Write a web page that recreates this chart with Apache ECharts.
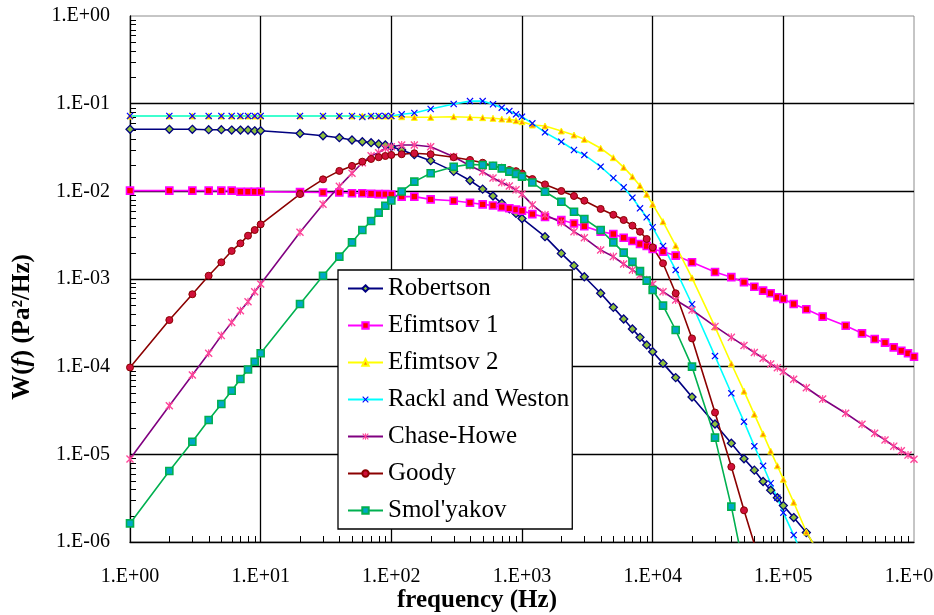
<!DOCTYPE html>
<html><head><meta charset="utf-8">
<script src="https://cdn.jsdelivr.net/npm/echarts@6/dist/echarts.min.js"></script>
<style>html,body{margin:0;padding:0;background:#fff}#c{width:934px;height:615px}</style>
</head><body><div id="c"></div>
<script>
// ---- tick labels ----
const xTickLabels = ['1.E+00','1.E+01','1.E+02','1.E+03','1.E+04','1.E+05','1.E+06'];
const yTickLabels = ['1.E-06','1.E-05','1.E-04','1.E-03','1.E-02','1.E-01','1.E+00'];
const seriesNames = ['Robertson','Efimtsov 1','Efimtsov 2','Rackl and Weston','Chase-Howe','Goody',"Smol'yakov"];

// ---- series values: [frequency Hz, W(f) Pa^2/Hz] ----
const robertson = [[1,0.051],[2,0.051],[3,0.051],[4,0.0505],[5,0.0505],[6,0.050],[7,0.050],[8,0.050],[9,0.049],[10,0.049],
[20,0.0457],[30,0.0431],[40,0.0409],[50,0.0385],[60,0.0368],[70,0.0359],[80,0.0347],[90,0.0338],[100,0.0323],[120,0.0296],[150,0.0262],
[200,0.0224],[300,0.0169],[400,0.0133],[500,0.0106],[600,0.00885],[700,0.0073],[800,0.0063],[900,0.0056],[1000,0.0049],[1500,0.00304],
[2000,0.00196],[2500,0.00142],[3000,0.00106],[4000,0.000687],[5000,0.000475],[6000,0.00035],[7000,0.000269],[8000,0.000216],[9000,0.000177],
[10000,0.000148],[12000,0.000109],[15000,7.5e-5],[20000,4.5e-5],[30000,2.22e-5],[40000,1.34e-5],[50000,8.9e-6],[60000,6.6e-6],[70000,4.9e-6],
[80000,3.9e-6],[90000,3.2e-6],[100000,2.6e-6],[120000,1.9e-6],[150000,1.28e-6],[200000,6.5e-7]];

const efimtsov1 = [[1,0.0102],[2,0.0102],[3,0.0102],[4,0.0102],[5,0.0102],[6,0.0102],[7,0.0099],[8,0.0099],[9,0.0099],[10,0.0099],
[20,0.0098],[30,0.0097],[40,0.0097],[50,0.0095],[60,0.0095],[70,0.0094],[80,0.0093],[90,0.0093],[100,0.0092],[120,0.0087],[150,0.0087],
[200,0.0081],[300,0.0078],[400,0.0074],[500,0.0071],[600,0.0069],[700,0.0066],[800,0.0064],[900,0.0062],[1000,0.0060],[1200,0.0055],[1500,0.0051],
[2000,0.0047],[2500,0.0043],[3000,0.0040],[4000,0.00347],[5000,0.00326],[6000,0.00295],[7000,0.00271],[8000,0.00251],[9000,0.00238],
[10000,0.0022],[12000,0.00205],[15000,0.00185],[20000,0.00155],[30000,0.0012],[40000,0.00105],[50000,0.00092],[60000,0.000817],[70000,0.000736],
[80000,0.000687],[90000,0.000618],[100000,0.000591],[120000,0.000519],[150000,0.000451],[200000,0.000372],[300000,0.000293],[400000,0.00024],
[500000,0.000207],[600000,0.000188],[700000,0.000166],[800000,0.000152],[900000,0.000142],[1000000,0.00013]];

const efimtsov2 = [[1,0.0724],[2,0.0724],[3,0.0724],[4,0.0724],[5,0.0724],[6,0.0724],[7,0.0724],[8,0.0724],[9,0.0724],[10,0.0724],
[20,0.0724],[30,0.0724],[40,0.0724],[50,0.0724],[60,0.0724],[70,0.0724],[80,0.0724],[90,0.0724],[100,0.0724],[120,0.071],[150,0.0699],
[200,0.0699],[300,0.071],[400,0.0699],[500,0.0692],[600,0.0681],[700,0.0669],[800,0.0663],[900,0.064],[1000,0.0623],[1200,0.0571],[1500,0.0556],
[2000,0.0488],[2500,0.0439],[3000,0.0392],[4000,0.031],[5000,0.0242],[6000,0.0188],[7000,0.0147],[8000,0.0116],[9000,0.00925],
[10000,0.00711],[12000,0.00451],[15000,0.0024],[20000,0.00103],[30000,0.000284],[40000,0.000108],[50000,5.25e-5],[60000,2.86e-5],[70000,1.71e-5],
[80000,1.09e-5],[90000,7.4e-6],[100000,5.2e-6],[120000,2.84e-6],[150000,1.3e-6],[200000,6.3e-7]];

const racklWeston = [[1,0.0724],[2,0.0724],[3,0.0724],[4,0.0724],[5,0.0724],[6,0.0724],[7,0.0724],[8,0.0724],[9,0.0724],[10,0.0724],
[20,0.0724],[30,0.0724],[40,0.0724],[50,0.0724],[60,0.0705],[70,0.0724],[80,0.0724],[90,0.0724],[100,0.0724],[120,0.0756],[150,0.0783],
[200,0.0869],[300,0.0991],[400,0.107],[500,0.107],[600,0.0984],[700,0.090],[800,0.0824],[900,0.0756],[1000,0.071],[1200,0.0597],[1500,0.0471],
[2000,0.0368],[2500,0.0296],[3000,0.026],[4000,0.0191],[5000,0.0142],[6000,0.0111],[7000,0.00846],[8000,0.0064],[9000,0.00506],
[10000,0.00389],[12000,0.00238],[15000,0.00127],[20000,0.000515],[30000,0.000132],[40000,4.97e-5],[50000,2.36e-5],[60000,1.24e-5],[70000,7.4e-6],
[80000,4.68e-6],[90000,3.2e-6],[100000,2.16e-6],[120000,1.2e-6],[150000,5.5e-7]];

const chaseHowe = [[1,8.85e-6],[2,3.59e-5],[3,8.04e-5],[4,1.42e-4],[5,2.26e-4],[6,3.2e-4],[7,4.35e-4],[8,5.5e-4],[9,7.17e-4],[10,8.77e-4],
[20,0.00341],[30,0.00711],[40,0.0114],[50,0.0161],[60,0.0212],[70,0.0255],[80,0.0276],[90,0.031],[100,0.0323],[120,0.0338],[150,0.0338],
[200,0.0323],[300,0.0248],[400,0.0196],[500,0.0167],[600,0.0142],[700,0.0126],[800,0.0115],[900,0.0104],[1000,0.0093],[1200,0.0070],[1500,0.0054],
[2000,0.0044],[2500,0.00347],[3000,0.00295],[4000,0.00214],[5000,0.0018],[6000,0.00148],[7000,0.00127],[8000,0.00111],[9000,0.00098],
[10000,0.00087],[12000,0.000717],[15000,0.000576],[20000,0.000443],[30000,2.88e-4],[40000,2.16e-4],[50000,1.74e-4],[60000,1.45e-4],[70000,1.25e-4],
[80000,1.07e-4],[90000,9.7e-5],[100000,8.8e-5],[120000,7.2e-5],[150000,5.75e-5],[200000,4.28e-5],[300000,2.94e-5],[400000,2.2e-5],
[500000,1.74e-5],[600000,1.46e-5],[700000,1.24e-5],[800000,1.1e-5],[900000,9.8e-6],[1000000,8.8e-6]];

const goody = [[1,9.8e-5],[2,3.4e-4],[3,6.7e-4],[4,1.09e-3],[5,1.55e-3],[6,2.09e-3],[7,2.55e-3],[8,3.12e-3],[9,3.62e-3],[10,4.2e-3],
[20,9.3e-3],[30,0.0137],[40,0.0171],[50,0.0195],[60,0.0218],[70,0.0234],[80,0.0245],[90,0.0253],[100,0.026],[120,0.0265],[150,0.0272],
[200,0.0265],[300,0.0245],[400,0.0228],[500,0.0212],[600,0.0196],[700,0.0186],[800,0.0175],[900,0.017],[1000,0.016],[1200,0.0138],[1500,0.012],
[2000,0.0101],[2500,0.00885],[3000,0.00782],[4000,0.0063],[5000,0.0054],[6000,0.00471],[7000,0.00406],[8000,0.00346],[9000,0.00286],
[10000,0.0023],[12000,0.00151],[15000,6.87e-4],[20000,2.1e-4],[30000,3.0e-5],[40000,7.2e-6],[50000,2.3e-6],[60000,9.5e-7]];

const smolyakov = [[1,1.63e-6],[2,6.46e-6],[3,1.39e-5],[4,2.46e-5],[5,3.75e-5],[6,5.32e-5],[7,7.24e-5],[8,9.3e-5],[9,1.14e-4],[10,1.42e-4],
[20,5.19e-4],[30,1.09e-3],[40,1.8e-3],[50,2.62e-3],[60,3.62e-3],[70,4.59e-3],[80,5.71e-3],[90,6.86e-3],[100,7.86e-3],[120,9.96e-3],[150,0.0129],
[200,0.0161],[300,0.0191],[400,0.0203],[500,0.020],[600,0.0196],[700,0.0183],[800,0.0168],[900,0.0158],[1000,0.0147],[1200,0.0126],[1500,0.0099],
[2000,0.0076],[2500,0.00586],[3000,0.00484],[4000,0.00362],[5000,0.00262],[6000,0.002],[7000,0.00157],[8000,0.00123],[9000,9.57e-4],
[10000,7.5e-4],[12000,4.97e-4],[15000,2.62e-4],[20000,1.0e-4],[30000,1.55e-5],[40000,2.53e-6],[50000,5e-7]];

// ---- presentation ----
const FONT = "'Liberation Serif','Times New Roman',serif";
const X_PATH = 'path://M0,1.2L1.2,0L5,3.8L8.8,0L10,1.2L6.2,5L10,8.8L8.8,10L5,6.2L1.2,10L0,8.8L3.8,5Z';
const STAR_PATH = 'path://M0,1.2L1.2,0L5,3.8L8.8,0L10,1.2L6.2,5L10,8.8L8.8,10L5,6.2L1.2,10L0,8.8L3.8,5Z M4.3,0L5.7,0L5.7,10L4.3,10Z';

function lineSeries(name, data, lineColor, symbol, size, fill, border, bw) {
  return {
    type: 'line', name, data, clip: true, showSymbol: true, showAllSymbol: true,
    symbol, symbolSize: size,
    lineStyle: { color: lineColor, width: 1.6 },
    itemStyle: { color: fill, borderColor: border, borderWidth: bw },
    emphasis: { disabled: true }
  };
}

const minorX = [];
for (let k = 0; k < 6; k++) for (let m = 2; m <= 9; m++) minorX.push(m * Math.pow(10, k));
const minorY = [];
for (let k = -6; k < 0; k++) for (let m = 2; m <= 9; m++) minorY.push(m * Math.pow(10, k));

function labelFrom(labels, minExp) {
  return function (v) { const e = Math.round(Math.log10(v)); return labels[e - minExp] || ''; };
}

const chart = echarts.init(document.getElementById('c'), null, { renderer: 'canvas' });
chart.setOption({
  animation: false,
  backgroundColor: '#fff',
  grid: { left: 130, top: 16, width: 784, height: 526, containLabel: false, outerBoundsMode: 'none',
    show: true, borderColor: '#8c8c8c', borderWidth: 1, backgroundColor: 'transparent' },
  xAxis: {
    type: 'log', logBase: 10, min: 1, max: 1e6, splitNumber: 6,
    axisLine: { show: true, onZero: false, lineStyle: { color: '#000', width: 1.3 } },
    axisTick: { show: false },
    splitLine: { show: true, showMinLine: false, showMaxLine: false, lineStyle: { color: '#000', width: 1.3 } },
    axisLabel: { formatter: labelFrom(xTickLabels, 0), margin: 25, color: '#000', fontFamily: FONT, fontSize: 20, hideOverlap: false }
  },
  yAxis: {
    type: 'log', logBase: 10, min: 1e-6, max: 1, splitNumber: 6,
    axisLine: { show: true, onZero: false, lineStyle: { color: '#000', width: 1.3 } },
    axisTick: { show: false },
    splitLine: { show: true, showMinLine: false, showMaxLine: false, lineStyle: { color: '#000', width: 1.3 } },
    axisLabel: { formatter: labelFrom(yTickLabels, -6), margin: 20, color: '#000', fontFamily: FONT, fontSize: 20 }
  },
  legend: {
    data: seriesNames, orient: 'vertical', left: 338, top: 270,
    itemWidth: 35, itemHeight: 8, itemGap: 12, padding: [6, 3, 6, 9],
    backgroundColor: '#fff', borderColor: '#000', borderWidth: 1.3, borderRadius: 0,
    selectedMode: false,
    textStyle: { fontFamily: FONT, fontSize: 25, color: '#000', lineHeight: 25 }
  },
  graphic: [
    { type: 'text', x: 477, y: 601, z: 10,
      style: { text: 'frequency (Hz)', fontFamily: FONT, fontSize: 25, fontWeight: 'bold', fill: '#000', align: 'center', verticalAlign: 'middle' } },
    { type: 'text', x: 23, y: 327, rotation: Math.PI / 2, z: 10,
      style: { text: '{b|W(}{i|f}{b|) (Pa²/Hz)}', align: 'center', verticalAlign: 'middle', fill: '#000',
        rich: {
          b: { fontFamily: FONT, fontSize: 25, fontWeight: 'bold', fill: '#000' },
          i: { fontFamily: FONT, fontSize: 25, fontWeight: 'bold', fontStyle: 'italic', fill: '#000' }
        } } }
  ],
  series: [
    { type: 'custom', name: 'minorX', silent: true, clip: false, z: 3,
      data: minorX.map(v => [v, 1e-6]),
      renderItem: function (params, api) {
        const p = api.coord([api.value(0), api.value(1)]);
        const x = Math.round(p[0]) + 0.5;
        return { type: 'line', shape: { x1: x, y1: p[1], x2: x, y2: p[1] - 6 }, style: { stroke: '#000', lineWidth: 1 } };
      } },
    { type: 'custom', name: 'minorY', silent: true, clip: false, z: 3,
      data: minorY.map(v => [1, v]),
      renderItem: function (params, api) {
        const p = api.coord([api.value(0), api.value(1)]);
        const y = Math.round(p[1]) + 0.5;
        return { type: 'line', shape: { x1: p[0], y1: y, x2: p[0] + 6, y2: y }, style: { stroke: '#000', lineWidth: 1 } };
      } },
    lineSeries('Robertson', robertson, '#000080', 'diamond', 8, '#8DC03C', '#000080', 1.3),
    lineSeries('Efimtsov 1', efimtsov1, '#FF00FF', 'rect', 7, '#FF0000', '#FF00FF', 1.6),
    lineSeries('Efimtsov 2', efimtsov2, '#FFFF00', 'triangle', 6, '#FF8C00', '#FFFF00', 1),
    lineSeries('Rackl and Weston', racklWeston, '#00FFFF', X_PATH, 7, '#0000FF', '#0000FF', 0),
    lineSeries('Chase-Howe', chaseHowe, '#800080', STAR_PATH, 8, '#FF4499', '#FF4499', 0),
    lineSeries('Goody', goody, '#8B0000', 'circle', 7, '#D0103A', '#8B0000', 1),
    lineSeries("Smol'yakov", smolyakov, '#00B050', 'rect', 7, '#00A8C8', '#00B050', 1.6)
  ]
});
</script>
</body></html>
